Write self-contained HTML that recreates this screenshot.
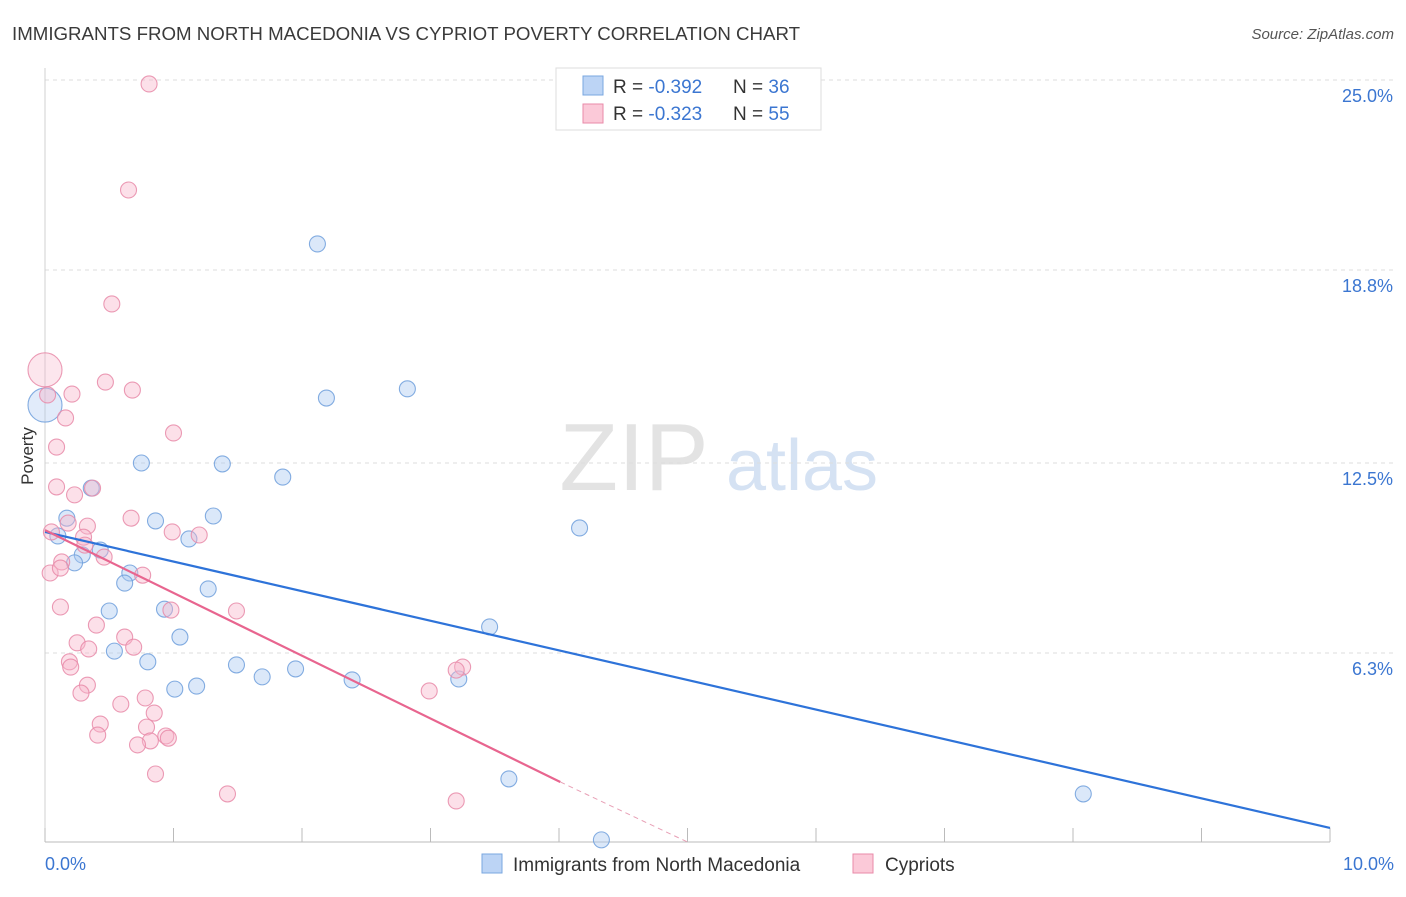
<!DOCTYPE html>
<html><head><meta charset="utf-8"><style>
body{margin:0;background:#fff;font-family:"Liberation Sans",sans-serif;}
svg text{font-family:"Liberation Sans",sans-serif;}
</style></head><body>
<svg id="chart" width="1406" height="892" viewBox="0 0 1406 892" xmlns="http://www.w3.org/2000/svg">
<text x="12" y="40" font-size="18.7" fill="#3a3a3a">IMMIGRANTS FROM NORTH MACEDONIA VS CYPRIOT POVERTY CORRELATION CHART</text>
<text x="1394" y="39" font-size="15" fill="#555" text-anchor="end" font-style="italic">Source: ZipAtlas.com</text>
<g>
<text x="634" y="490" font-size="96" fill="#d8d8d8" text-anchor="middle" font-family="Liberation Serif" opacity="0.7">ZIP</text>
<text x="802" y="490" font-size="72" fill="#c4d6ef" text-anchor="middle" opacity="0.7">atlas</text>
</g>
<g id="grid"></g>
<g id="axes"></g>
<g id="marks"></g>
<text transform="translate(33,456) rotate(-90)" font-size="17" fill="#333" text-anchor="middle">Poverty</text>
<text x="45" y="870" font-size="18" fill="#3b76d1">0.0%</text>
<text x="1394" y="870" font-size="18" fill="#3b76d1" text-anchor="end">10.0%</text>
<g>
<rect x="556" y="68" width="265" height="62" fill="#fff" stroke="#ddd"/>
<rect x="583" y="76" width="20" height="19" fill="#bcd4f5" stroke="#7aa7e0"/>
<rect x="583" y="104" width="20" height="19" fill="#fbc9d8" stroke="#e88aa8"/>
<text x="613" y="93" font-size="19" fill="#333">R = <tspan fill="#3b76d1">-0.392</tspan></text>
<text x="733" y="93" font-size="19" fill="#333">N = <tspan fill="#3b76d1">36</tspan></text>
<text x="613" y="120" font-size="19" fill="#333">R = <tspan fill="#3b76d1">-0.323</tspan></text>
<text x="733" y="120" font-size="19" fill="#333">N = <tspan fill="#3b76d1">55</tspan></text>
</g>
<g>
<rect x="482" y="854" width="20" height="19" fill="#bcd4f5" stroke="#7aa7e0"/>
<text x="513" y="871" font-size="19" fill="#333">Immigrants from North Macedonia</text>
<rect x="853" y="854" width="20" height="19" fill="#fbc9d8" stroke="#e88aa8"/>
<text x="885" y="871" font-size="19" fill="#333">Cypriots</text>
</g>
</svg>
<script>
const yTicks=[6.3,12.5,18.8,25.0];
const yTickLabels=["6.3%","12.5%","18.8%","25.0%"];
const xTicks=[0,1,2,3,4,5,6,7,8,9,10];
const blueX=[2.12,2.82,2.19,0.75,1.38,1.85,0.36,0.17,0.86,1.31,4.16,0.10,1.12,0.43,0.29,0.23,0.66,0.62,1.27,0.50,0.93,1.05,3.46,0.54,0.80,1.49,1.95,1.69,2.39,3.22,1.01,1.18,3.61,8.08,4.33,0];
const blueY=[19.65,14.92,14.62,12.50,12.47,12.04,11.68,10.70,10.61,10.77,10.38,10.12,10.02,9.66,9.50,9.24,8.91,8.58,8.39,7.67,7.73,6.82,7.15,6.36,6.01,5.91,5.78,5.52,5.42,5.45,5.12,5.22,2.19,1.70,0.20,14.39];
const pinkX=[0.81,0.65,0.52,0,0.47,0.68,0.21,0.02,0.16,1.00,0.09,0.09,0.23,0.37,0.67,0.18,0.33,0.05,0.99,1.20,0.30,0.31,0.13,0.46,0.76,0.04,0.12,0.12,0.98,1.49,0.40,0.62,0.25,0.69,0.34,0.19,0.20,3.25,3.20,0.33,0.28,2.99,0.78,0.59,0.85,0.43,0.79,0.41,0.94,0.96,0.82,0.72,0.86,1.42,3.20];
const pinkY=[24.87,21.41,17.69,15.54,15.14,14.88,14.75,14.72,13.97,13.48,13.02,11.72,11.46,11.68,10.70,10.54,10.44,10.25,10.25,10.15,10.08,9.82,9.27,9.43,8.84,8.91,9.07,7.80,7.70,7.67,7.21,6.82,6.63,6.49,6.43,6.01,5.84,5.84,5.74,5.25,4.99,5.06,4.83,4.63,4.34,3.98,3.88,3.62,3.59,3.52,3.43,3.30,2.35,1.70,1.47];
const blueTrend=[10.25,0.59];
const pinkTrend=[10.31,2.09,4.01,0.13,5.0];
const NS="http://www.w3.org/2000/svg";
function sx(v){return 45+v*128.5;}
function sy(v){return 846-v*30.64;}
function mk(tag,attrs,parent){const e=document.createElementNS(NS,tag);for(const k in attrs)e.setAttribute(k,attrs[k]);parent.appendChild(e);return e;}
const grid=document.getElementById('grid'),axes=document.getElementById('axes'),marks=document.getElementById('marks');
yTicks.forEach((t,i)=>{
 const l=mk('line',{x1:45,x2:1394,y1:sy(t),y2:sy(t),stroke:'#ddd','stroke-dasharray':'4,4'},grid);
 
 
 const tx=mk('text',{x:1393,y:sy(t)+22,'font-size':18,fill:'#3b76d1','text-anchor':'end'},grid);
 tx.textContent=yTickLabels[i];
 
 
});
const ax=mk('line',{x1:45,x2:45,y1:68,y2:842,stroke:'#d0d0d0'},axes);


const bx=mk('line',{x1:45,x2:1330,y1:842,y2:842,stroke:'#bbb'},axes);


xTicks.forEach(t=>{
 const l=mk('line',{x1:sx(t),x2:sx(t),y1:828,y2:842,stroke:'#bbb'},axes);
 
 
});
function pts(X,Y,fill,stroke,name){
 X.forEach((x,i)=>{
  const big=(x===0);
  const c=mk('circle',{cx:sx(x),cy:sy(Y[i]),r:big?17:8,fill:fill,'fill-opacity':big?0.35:0.42,stroke:stroke,'stroke-width':1.1,'stroke-opacity':0.85},marks);
  
  
 });
}
pts(blueX,blueY,'#a9c7f0','#6e9fdc','macedonia-point');
pts(pinkX,pinkY,'#f7b6ca','#e88aa8','cypriot-point');
const bl=mk('line',{x1:sx(0),y1:sy(blueTrend[0]),x2:sx(10),y2:sy(blueTrend[1]),stroke:'#2e73d9','stroke-width':2.2},marks);


const pl=mk('line',{x1:sx(0),y1:sy(pinkTrend[0]),x2:sx(pinkTrend[2]),y2:sy(pinkTrend[1]),stroke:'#e8658f','stroke-width':2.2},marks);


const pd=mk('line',{x1:sx(pinkTrend[2]),y1:sy(pinkTrend[1]),x2:sx(pinkTrend[4]),y2:sy(pinkTrend[3]),stroke:'#e8a0b6','stroke-width':1,'stroke-dasharray':'5,4'},marks);


</script>
</body></html>
